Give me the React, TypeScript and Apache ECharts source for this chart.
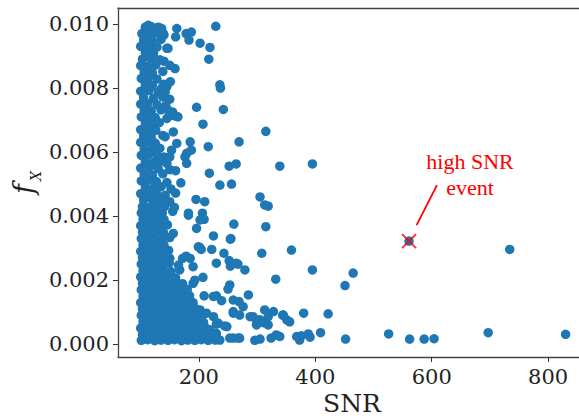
import React, { useEffect, useRef } from "react";
import * as echarts from "echarts";

const xTicks = [200, 400, 600, 800];
const yTicks = [0, 0.002, 0.004, 0.006, 0.008, 0.01];

// dense column of low-SNR events, f_X 0.0045 .. 0.010
const upperColumn: number[][] = [
  [108, 0.0099], [118, 0.00992], [132, 0.00988],
  [102, 0.0097], [112, 0.00968], [125, 0.00972], [140, 0.00966],
  [105, 0.0095], [120, 0.00948], [135, 0.00952],
  [100, 0.0093], [115, 0.00932], [128, 0.00928],
  [108, 0.0091], [122, 0.00908],
  [103, 0.0089], [118, 0.00892], [133, 0.00888], [140, 0.00884],
  [100, 0.0087], [112, 0.00868], [126, 0.00872],
  [106, 0.0085], [120, 0.00848], [138, 0.00852],
  [101, 0.0083], [113, 0.00832], [128, 0.00828],
  [108, 0.0081], [120, 0.00808], [140, 0.00812], [145, 0.00805],
  [100, 0.0079], [114, 0.00792], [130, 0.00788],
  [105, 0.0077], [122, 0.00768], [138, 0.00772], [150, 0.00765],
  [100, 0.0075], [112, 0.00752], [128, 0.00748], [143, 0.00745],
  [106, 0.0073], [118, 0.00728], [135, 0.00732], [155, 0.00725],
  [101, 0.0071], [113, 0.00712], [125, 0.00708], [145, 0.00705], [160, 0.00712],
  [108, 0.0069], [120, 0.00688], [132, 0.00692],
  [100, 0.0067], [114, 0.00672], [126, 0.00668],
  [105, 0.0065], [118, 0.00648], [138, 0.00652],
  [100, 0.0063], [112, 0.00632], [125, 0.00628],
  [106, 0.0061], [120, 0.00608], [133, 0.00612],
  [101, 0.0059], [113, 0.00592], [128, 0.00588], [140, 0.00585],
  [108, 0.0057], [122, 0.00568], [135, 0.00572], [145, 0.00565],
  [100, 0.0055], [115, 0.00552], [130, 0.00548], [150, 0.00545],
  [106, 0.0053], [120, 0.00528], [138, 0.00532],
  [101, 0.0051], [113, 0.00512], [127, 0.00508], [145, 0.00505],
  [108, 0.0049], [122, 0.00488], [135, 0.00492], [152, 0.00485],
  [100, 0.0047], [114, 0.00472], [128, 0.00468], [142, 0.00465], [160, 0.00472],
  [105, 0.0045], [120, 0.00452], [135, 0.00448], [150, 0.00445],
];

// solid block, f_X 0.002 .. 0.0045
const middleBlock: number[][] = [
  [100, 0.0021], [112, 0.00212], [124, 0.00208], [136, 0.0021], [148, 0.00213], [160, 0.00207],
  [104, 0.0023], [116, 0.00228], [128, 0.00232], [140, 0.0023], [152, 0.00227],
  [101, 0.0025], [113, 0.00252], [125, 0.00248], [137, 0.0025], [149, 0.00253], [165, 0.00247],
  [103, 0.0027], [115, 0.00268], [127, 0.00272], [139, 0.0027], [150, 0.00268],
  [100, 0.0029], [112, 0.00292], [124, 0.00288], [136, 0.0029], [148, 0.00293],
  [104, 0.0031], [116, 0.00308], [128, 0.00312], [140, 0.0031],
  [101, 0.0033], [113, 0.00332], [125, 0.00328], [137, 0.0033], [150, 0.00333],
  [103, 0.0035], [115, 0.00348], [127, 0.00352], [139, 0.0035],
  [100, 0.0037], [112, 0.00372], [124, 0.00368], [136, 0.0037], [146, 0.00373],
  [104, 0.0039], [116, 0.00388], [128, 0.00392], [140, 0.0039],
  [101, 0.0041], [113, 0.00412], [125, 0.00408], [137, 0.0041], [155, 0.00415],
  [103, 0.0043], [115, 0.00428], [127, 0.00432], [141, 0.0043], [158, 0.00427],
];

// solid block, f_X 0 .. 0.002
const lowerBlock: number[][] = [
  [101, 0.00012], [112, 0.00014], [124, 0.00011], [135, 0.00013], [147, 0.00012], [158, 0.00014], [170, 0.00011], [181, 0.00013], [193, 0.00012], [204, 0.00014], [216, 0.00012], [228, 0.00013],
  [103, 0.0003], [115, 0.00032], [126, 0.00029], [138, 0.00031], [149, 0.0003], [161, 0.00032], [172, 0.00029], [184, 0.00031], [196, 0.0003], [207, 0.00028], [219, 0.00031],
  [100, 0.0005], [111, 0.00052], [123, 0.00049], [134, 0.00051], [146, 0.0005], [157, 0.00052], [169, 0.00049], [180, 0.00051], [192, 0.0005], [203, 0.00048], [212, 0.0005],
  [104, 0.0007], [116, 0.00072], [127, 0.00069], [139, 0.00071], [150, 0.0007], [162, 0.00072], [173, 0.00069], [185, 0.00071], [197, 0.0007], [208, 0.00068],
  [101, 0.0009], [112, 0.00092], [124, 0.00089], [136, 0.00091], [147, 0.0009], [159, 0.00092], [170, 0.00089], [182, 0.00091], [193, 0.0009], [205, 0.00088],
  [103, 0.0011], [115, 0.00112], [126, 0.00109], [138, 0.00111], [150, 0.0011], [161, 0.00112], [173, 0.00109], [184, 0.00111], [195, 0.0011],
  [100, 0.0013], [111, 0.00132], [123, 0.00129], [135, 0.00131], [146, 0.0013], [158, 0.00132], [169, 0.00129], [181, 0.00131], [190, 0.0013],
  [104, 0.0015], [116, 0.00152], [127, 0.00149], [139, 0.00151], [150, 0.0015], [162, 0.00152], [173, 0.00149], [184, 0.00151],
  [101, 0.0017], [113, 0.00172], [124, 0.00169], [136, 0.00171], [148, 0.0017], [159, 0.00172], [170, 0.00169], [180, 0.00171],
  [103, 0.0019], [115, 0.00192], [126, 0.00189], [138, 0.00191], [150, 0.0019], [161, 0.00192], [172, 0.00189],
];

// scattered events around the dense region
const scattered: number[][] = [
  [113, 0.00996], [130, 0.0099], [136, 0.00986], [139, 0.0097], [162, 0.00986], [178, 0.0097], [187, 0.00975],
  [183, 0.0095], [160, 0.0096], [229, 0.00993], [202, 0.0094], [219, 0.00927], [217, 0.0089], [145, 0.00924],
  [147, 0.00924], [150, 0.00871], [159, 0.00861], [151, 0.0082], [236, 0.0081], [237, 0.008], [136, 0.008],
  [142, 0.00788], [196, 0.0074], [242, 0.00733], [147, 0.00731], [153, 0.00715], [164, 0.0071], [207, 0.00687],
  [315, 0.00665], [142, 0.00648], [156, 0.00663], [162, 0.00627], [185, 0.00632], [269, 0.00632], [216, 0.00617],
  [153, 0.00606], [150, 0.00585], [187, 0.00606], [179, 0.00596], [176, 0.00585], [179, 0.00565], [252, 0.00556],
  [264, 0.00563], [339, 0.00556], [218, 0.00534], [160, 0.00542],
  [169, 0.00504], [236, 0.00497], [256, 0.005], [305, 0.0046], [313, 0.00435], [319, 0.00431], [195, 0.00452],
  [210, 0.00445], [182, 0.00409], [206, 0.00409], [209, 0.0039], [260, 0.00375], [315, 0.00367], [196, 0.00362],
  [225, 0.00338], [254, 0.00328], [201, 0.00303], [204, 0.00296], [222, 0.00296], [243, 0.00284], [308, 0.00284],
  [359, 0.00294], [178, 0.00275], [185, 0.00268], [230, 0.00253], [252, 0.00261], [254, 0.00244], [267, 0.0025],
  [279, 0.00232], [332, 0.00203], [207, 0.00209], [253, 0.00185], [250, 0.00172], [285, 0.00154], [190, 0.0019],
  [209, 0.00151], [230, 0.00151], [239, 0.00136], [269, 0.00133], [276, 0.00117], [259, 0.00102], [270, 0.00091],
  [288, 0.00086], [299, 0.00076], [313, 0.00107], [319, 0.00086], [328, 0.00102], [344, 0.00091], [351, 0.00076],
  [319, 0.0006], [311, 0.00067], [230, 0.00063], [244, 0.00057], [333, 0.00029], [324, 0.00019], [296, 0.00012],
  [305, 0.00016], [236, 0.00013], [253, 0.00019], [267, 0.00019], [190, 0.00117], [202, 0.00107], [213, 0.00097],
  [225, 0.00086], [185, 0.00076], [196, 0.00066], [207, 0.00055], [219, 0.00045], [230, 0.00034],
  [156, 0.00346], [182, 0.00403], [202, 0.00388], [255, 0.0033], [199, 0.00304], [172, 0.00268], [167, 0.00232],
  [190, 0.00242], [156, 0.002], [193, 0.002], [264, 0.00253], [225, 0.00149], [259, 0.00138], [259, 0.00097],
  [233, 0.00066], [248, 0.00055], [293, 0.00086], [305, 0.00076], [299, 0.0006], [259, 0.00019], [270, 0.00019],
];

// high-SNR tail
const outliers: number[][] = [
  [395, 0.00563], [395, 0.00232], [465, 0.00222], [451, 0.00183], [380, 0.00097], [422, 0.00095], [356, 0.0007],
  [368, 0.00024], [376, 0.00026], [388, 0.00032], [391, 0.00022], [373, 0.00013], [409, 0.00036], [452, 0.00016],
  [526, 0.00032], [562, 0.00016], [587, 0.00016], [604, 0.00017], [697, 0.00036], [734, 0.00296], [830, 0.00031],
  [345, 0.00091], [339, 0.00024],
];

const highSnrEvent: number[][] = [[561, 0.00322]];
const arrowFrom = [609, 0.00497];
const arrowTo = [574, 0.00372];

const BLUE = "#1f77b4";
const X_MIN = 61;
const X_MAX = 853;

export default function App() {
  const ref = useRef<HTMLDivElement>(null);
  useEffect(() => {
    document.body.style.margin = "0";
    const chart = echarts.init(ref.current!, null, { renderer: "svg" });
    const allPoints = [...upperColumn, ...middleBlock, ...lowerBlock, ...scattered, ...outliers, ...highSnrEvent];
    const spine = { show: true, onZero: false, lineStyle: { color: "#444", width: 1.3 } };
    chart.setOption({
      animation: false,
      grid: { left: 118, right: 0, top: 8, bottom: 63 },
      xAxis: [
        {
          type: "value",
          min: X_MIN,
          max: X_MAX,
          position: "bottom",
          axisLine: spine,
          splitLine: { show: false },
          axisTick: { show: true, length: 5, lineStyle: { color: "#333", width: 1 }, customValues: xTicks },
          axisLabel: {
            customValues: xTicks,
            fontFamily: "DejaVu Serif",
            fontSize: 21,
            color: "#222",
            margin: 9,
          },
        },
        {
          type: "value",
          min: X_MIN,
          max: X_MAX,
          position: "top",
          axisLine: spine,
          axisTick: { show: false },
          axisLabel: { show: false },
          splitLine: { show: false },
        },
      ],
      yAxis: {
        type: "value",
        min: -0.0004,
        max: 0.0105,
        axisLine: spine,
        splitLine: { show: false },
        axisTick: { show: true, length: 5, lineStyle: { color: "#333", width: 1 }, customValues: yTicks },
        axisLabel: {
          customValues: yTicks,
          fontFamily: "DejaVu Serif",
          fontSize: 21,
          color: "#222",
          margin: 9,
          formatter: (v: number) => v.toFixed(3),
        },
      },
      series: [
        {
          type: "scatter",
          data: allPoints,
          symbolSize: 9.5,
          itemStyle: { color: BLUE, opacity: 1 },
          markLine: {
            silent: true,
            symbol: ["none", "arrow"],
            symbolSize: [0, 12],
            label: { show: false },
            lineStyle: { color: "red", width: 1.8, type: "solid" },
            data: [[{ coord: arrowFrom }, { coord: arrowTo }]],
          },
        },
        {
          type: "scatter",
          data: highSnrEvent,
          symbol: "path://M0 0L10 10M10 0L0 10",
          symbolSize: 14,
          itemStyle: { color: "none", borderColor: "red", borderWidth: 2 },
          z: 5,
        },
      ],
      graphic: [
        {
          type: "text",
          x: 470,
          y: 174,
          style: {
            text: "high SNR\nevent",
            fill: "red",
            font: '22px "Liberation Serif"',
            align: "center",
            verticalAlign: "middle",
            lineHeight: 26,
          },
        },
        {
          type: "text",
          x: 352,
          y: 403,
          style: {
            text: "SNR",
            fill: "#222",
            font: '25px "DejaVu Serif"',
            align: "center",
            verticalAlign: "middle",
          },
        },
        {
          type: "text",
          x: 23,
          y: 189,
          rotation: Math.PI / 2,
          style: {
            text: "f",
            fill: "#222",
            font: 'italic 27px "DejaVu Serif"',
            align: "center",
            verticalAlign: "middle",
          },
        },
        {
          type: "text",
          x: 36,
          y: 176,
          rotation: Math.PI / 2,
          style: {
            text: "X",
            fill: "#222",
            font: 'italic 14px "DejaVu Serif"',
            align: "center",
            verticalAlign: "middle",
          },
        },
      ],
    });
    return () => chart.dispose();
  }, []);
  return <div ref={ref} style={{ width: 579, height: 420 }} />;
}
